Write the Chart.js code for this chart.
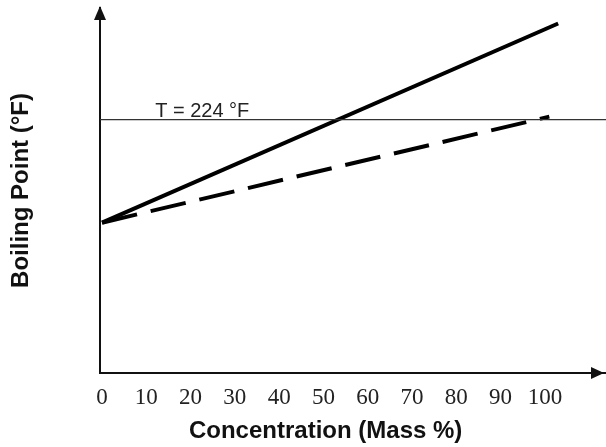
<!DOCTYPE html>
<html>
<head>
<meta charset="utf-8">
<script src="https://cdn.jsdelivr.net/npm/chart.js@4"></script>
<style>
	body { margin: 0; background: #fff; }
	#wrap { width: 606px; height: 447px; }
</style>
</head>
<body>
<div id="wrap"><canvas id="myChart"></canvas></div>
<script>
// data
const xTicks = [0, 10, 20, 30, 40, 50, 60, 70, 80, 90, 100];
const solidX = [0, 103];
const solidY = [212, 235.2];
const dashX = [0, 101];
const dashY = [212, 224.35];
const refTemp = 224;
const refLabel = 'T = 224 °F';
const refLabelX = 12;
const xTitle = 'Concentration (Mass %)';
const yTitle = 'Boiling Point (°F)';

const xMin = -0.45, xMax = 113.8;
const yMin = 194.5, yMax = 237;

function toPoints(xs, ys) {
	return xs.map((x, i) => ({ x: x, y: ys[i] }));
}

// arrow heads on both axes, the T label and the x title (sits left of centre)
const axisExtras = {
	id: 'axisExtras',
	afterDraw(chart) {
		const ctx = chart.ctx;
		const a = chart.chartArea;
		ctx.save();
		ctx.fillStyle = '#111';
		ctx.beginPath();
		ctx.moveTo(a.left, a.top - 2);
		ctx.lineTo(a.left - 6, a.top + 12);
		ctx.lineTo(a.left + 6, a.top + 12);
		ctx.closePath();
		ctx.fill();
		ctx.beginPath();
		ctx.moveTo(a.right - 2, a.bottom);
		ctx.lineTo(a.right - 15, a.bottom - 6);
		ctx.lineTo(a.right - 15, a.bottom + 6);
		ctx.closePath();
		ctx.fill();

		const x = chart.scales.x.getPixelForValue(refLabelX);
		const y = chart.scales.y.getPixelForValue(refTemp);
		ctx.font = '20px "Liberation Sans"';
		ctx.fillStyle = '#222';
		ctx.textBaseline = 'alphabetic';
		ctx.fillText(refLabel, x, y - 3);

		ctx.font = 'bold 24px "Liberation Sans"';
		ctx.fillStyle = '#111';
		ctx.textAlign = 'center';
		ctx.textBaseline = 'middle';
		ctx.fillText(xTitle, chart.scales.x.getPixelForValue(50.5), 431);
		ctx.restore();
	}
};

var ctx = document.getElementById('myChart').getContext('2d');
var myChart = new Chart(ctx, {
	type: 'line',
	data: {
		datasets: [
			{
				data: toPoints([xMin, xMax], [refTemp, refTemp]),
				borderColor: '#333',
				borderWidth: 1.3,
				pointRadius: 0
			},
			{
				data: toPoints(dashX, dashY),
				borderColor: '#000',
				borderWidth: 4,
				borderDash: [36, 14],
				pointRadius: 0
			},
			{
				data: toPoints(solidX, solidY),
				borderColor: '#000',
				borderWidth: 4,
				pointRadius: 0
			}
		]
	},
	plugins: [axisExtras],
	options: {
		responsive: true,
		maintainAspectRatio: false,
		animation: false,
		layout: { padding: { top: 8, right: 0, left: 0, bottom: 0 } },
		plugins: {
			legend: { display: false },
			tooltip: { enabled: false }
		},
		scales: {
			x: {
				type: 'linear',
				min: xMin,
				max: xMax,
				grid: { display: false },
				border: { display: true, color: '#111', width: 2 },
				afterBuildTicks: (scale) => {
					scale.ticks = xTicks.map(v => ({ value: v }));
				},
				afterFit: (scale) => { scale.height = 74; },
				ticks: {
					autoSkip: false,
					maxRotation: 0,
					padding: 3,
					color: '#222',
					font: { family: '"Liberation Serif"', size: 23 }
				},
				title: { display: false }
			},
			y: {
				min: yMin,
				max: yMax,
				grid: { display: false },
				border: { display: true, color: '#111', width: 2 },
				ticks: { display: false },
				afterFit: (scale) => { scale.width = 100; },
				title: {
					display: true,
					text: yTitle,
					color: '#111',
					padding: { top: 7, bottom: 0 },
					font: { family: '"Liberation Sans"', size: 24, weight: 'bold' }
				}
			}
		}
	}
});
</script>
</body>
</html>
